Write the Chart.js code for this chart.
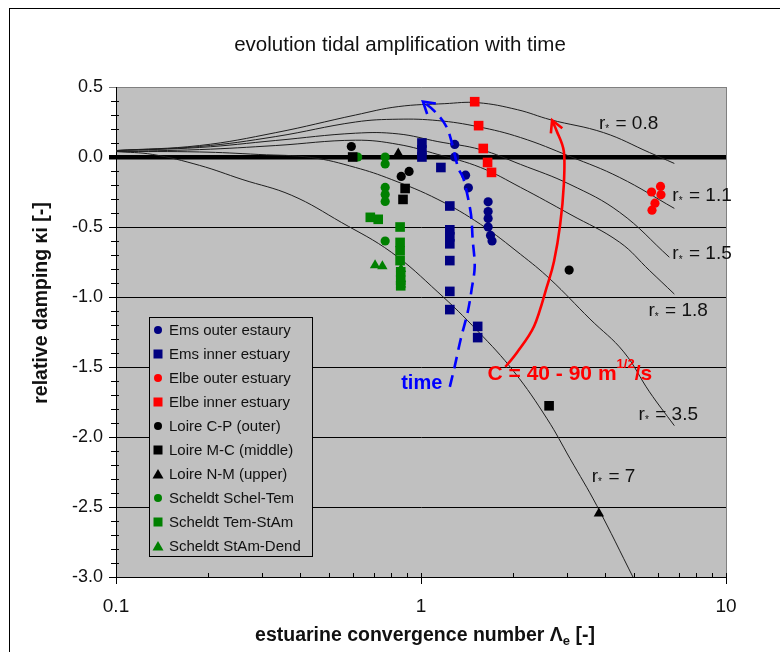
<!DOCTYPE html>
<html>
<head>
<meta charset="utf-8">
<script src="https://cdn.jsdelivr.net/npm/chart.js@4/dist/chart.umd.min.js"></script>
<style>
  html, body { margin: 0; padding: 0; background: #fff; }
</style>
</head>
<body>
<canvas id="tidalChart" width="780" height="652"></canvas>
<script>
// theoretical curves, one per r* value: [convergence number, relative damping]
const rStar = ['0.8', '1.1', '1.5', '1.8', '3.5', '7'];
const curveR08 = [[0.1,0.046],[0.188,0.082],[0.334,0.174],[0.61,0.30],[0.842,0.36],[1.197,0.381],[1.534,0.388],[2.07,0.338],[2.65,0.267],[3.97,0.174],[5.61,0.032],[6.77,-0.046]];
const curveR11 = [[0.1,0.046],[0.188,0.075],[0.334,0.146],[0.61,0.25],[0.842,0.27],[1.136,0.26],[1.534,0.217],[2.12,0.139],[3.08,0.004],[4.48,-0.146],[6.77,-0.367]];
const curveR15 = [[0.1,0.046],[0.188,0.068],[0.334,0.118],[0.61,0.17],[0.842,0.165],[1.136,0.11],[1.568,0.053],[2.12,-0.053],[3.08,-0.196],[4.48,-0.395],[6.52,-0.716]];
const curveR18 = [[0.1,0.04],[0.188,0.053],[0.334,0.082],[0.61,0.12],[0.842,0.09],[1.136,0.018],[1.568,-0.075],[2.12,-0.217],[3.08,-0.409],[4.48,-0.609],[5.61,-0.81],[6.77,-0.979]];
const curveR35 = [[0.1,0.039],[0.188,0.036],[0.294,0.018],[0.438,-0.004],[0.61,-0.075],[0.799,-0.16],[1.136,-0.303],[1.568,-0.481],[2.12,-0.695],[2.65,-0.872],[3.58,-1.157],[4.62,-1.392],[5.61,-1.677],[6.77,-1.919]];
const curveR7  = [[0.1,0.039],[0.132,0.018],[0.188,-0.06],[0.259,-0.16],[0.377,-0.274],[0.548,-0.467],[0.799,-0.68],[1.136,-0.965],[1.534,-1.243],[2.02,-1.535],[2.59,-1.87],[3.08,-2.154],[3.77,-2.49],[4.98,-3.01]];

// measured estuaries
const emsOuterX = [1.29, 1.29, 1.40, 1.43, 1.66, 1.66, 1.66, 1.66, 1.69, 1.71];
const emsOuterY = [0.09, 0.0, -0.13, -0.22, -0.32, -0.39, -0.44, -0.50, -0.56, -0.60];
const emsInnerX = [1.007, 1.007, 1.007, 1.162, 1.243, 1.243, 1.243, 1.243, 1.243, 1.243, 1.243, 1.534, 1.534];
const emsInnerY = [0.10, 0.05, 0.0, -0.075, -0.35, -0.52, -0.57, -0.62, -0.74, -0.96, -1.09, -1.21, -1.29];
const elbeOuterX = [5.70, 6.10, 6.12, 5.85, 5.72];
const elbeOuterY = [-0.25, -0.21, -0.27, -0.33, -0.38];
const elbeInnerX = [1.50, 1.545, 1.60, 1.653, 1.703];
const elbeInnerY = [0.395, 0.224, 0.061, -0.039, -0.11];
const loireCPX = [0.591, 0.861, 0.914, 3.06];
const loireCPY = [0.075, -0.139, -0.103, -0.808];
const loireMCX = [0.597, 0.887, 0.873, 2.63];
const loireMCY = [0.0, -0.225, -0.303, -1.777];
const loireNMX = [0.842, 3.83];
const loireNMY = [0.025, -2.546];
const scheldtSTX = [0.62, 0.763, 0.763, 0.763, 0.763, 0.763, 0.763];
const scheldtSTY = [0.0, 0.0, -0.05, -0.217, -0.267, -0.317, -0.60];
const scheldtTSX = [0.682, 0.724, 0.854, 0.854, 0.854, 0.854, 0.858, 0.858, 0.858];
const scheldtTSY = [-0.431, -0.445, -0.50, -0.61, -0.67, -0.74, -0.82, -0.88, -0.92];
const scheldtSDX = [0.707, 0.747, 0.86, 0.86, 0.86];
const scheldtSDY = [-0.773, -0.78, -0.80, -0.87, -0.91];

const xMajorTicks = [0.1, 1, 10];
const xMinorTicks = [0.2, 0.3, 0.4, 0.5, 0.6, 0.7, 0.8, 0.9, 2, 3, 4, 5, 6, 7, 8, 9];
const yTicks = [0.5, 0.0, -0.5, -1.0, -1.5, -2.0, -2.5, -3.0];

const FONT = '"Liberation Sans", Arial, sans-serif';
const NAVY = '#000080', RED = '#ff0000', GREEN = '#008000', BLACK = '#000000';

const toPts = arr => arr.map(p => ({ x: p[0], y: p[1] }));
const zip = (xs, ys) => xs.map((x, i) => ({ x: x, y: ys[i] }));

const curveSets = [curveR08, curveR11, curveR15, curveR18, curveR35, curveR7].map((c, i) => ({
    type: 'line',
    label: 'r* = ' + rStar[i],
    data: toPts(c),
    borderColor: '#1e1e1e',
    borderWidth: 1,
    pointRadius: 0,
    tension: 0.4,
    fill: false,
    order: 2
}));

function pts(label, xs, ys, color, style) {
    const r = style === 'circle' ? 4.6 : (style === 'rect' ? 6.8 : 6);
    return {
        type: 'scatter', label: label, data: zip(xs, ys),
        backgroundColor: color, borderColor: color, borderWidth: 0,
        pointStyle: style, pointRadius: r, pointHoverRadius: r, order: 1
    };
}

const pointSets = [
    pts('Ems outer estaury', emsOuterX, emsOuterY, NAVY, 'circle'),
    pts('Ems inner estuary', emsInnerX, emsInnerY, NAVY, 'rect'),
    pts('Elbe outer estuary', elbeOuterX, elbeOuterY, RED, 'circle'),
    pts('Elbe inner estuary', elbeInnerX, elbeInnerY, RED, 'rect'),
    pts('Loire C-P (outer)', loireCPX, loireCPY, BLACK, 'circle'),
    pts('Loire M-C (middle)', loireMCX, loireMCY, BLACK, 'rect'),
    pts('Loire N-M (upper)', loireNMX, loireNMY, BLACK, 'triangle'),
    pts('Scheldt Schel-Tem', scheldtSTX, scheldtSTY, GREEN, 'circle'),
    pts('Scheldt Tem-StAm', scheldtTSX, scheldtTSY, GREEN, 'rect'),
    pts('Scheldt StAm-Dend', scheldtSDX, scheldtSDY, GREEN, 'triangle')
];

// smooth path through points (catmull-rom)
function smoothPath(ctx, p) {
    ctx.moveTo(p[0][0], p[0][1]);
    for (let i = 0; i < p.length - 1; i++) {
        const p0 = p[i - 1] || p[i], p1 = p[i], p2 = p[i + 1], p3 = p[i + 2] || p2;
        ctx.bezierCurveTo(p1[0] + (p2[0] - p0[0]) / 6, p1[1] + (p2[1] - p0[1]) / 6,
                          p2[0] - (p3[0] - p1[0]) / 6, p2[1] - (p3[1] - p1[1]) / 6, p2[0], p2[1]);
    }
}
function chevron(ctx, tip, from, len, ang) {
    const a = Math.atan2(tip[1] - from[1], tip[0] - from[0]);
    ctx.beginPath();
    ctx.moveTo(tip[0] - len * Math.cos(a - ang), tip[1] - len * Math.sin(a - ang));
    ctx.lineTo(tip[0], tip[1]);
    ctx.lineTo(tip[0] - len * Math.cos(a + ang), tip[1] - len * Math.sin(a + ang));
    ctx.stroke();
}
function rLabel(ctx, x, y, val) {
    ctx.fillStyle = '#111';
    ctx.textBaseline = 'middle';
    ctx.textAlign = 'left';
    ctx.font = '19px ' + FONT;
    ctx.fillText('r', x, y);
    const w = ctx.measureText('r').width;
    ctx.font = '10px ' + FONT;
    ctx.fillText('*', x + w, y + 6);
    ctx.font = '19px ' + FONT;
    ctx.fillText(' = ' + val, x + w + 5, y);
}

// annotation paths in data coordinates
const timeArrow = [[1.243,-1.642],[1.291,-1.492],[1.350,-1.300],[1.423,-1.107],[1.466,-0.944],[1.50,-0.780],[1.477,-0.588],[1.455,-0.395],[1.380,-0.160],[1.320,-0.068],[1.224,0.196],[1.111,0.324],[1.015,0.395]];
const chezyArrow = [[1.89,-1.499],[2.07,-1.392],[2.35,-1.207],[2.59,-0.922],[2.73,-0.744],[2.86,-0.481],[2.94,-0.196],[2.94,0.039],[2.79,0.182],[2.69,0.262]];
const rLabelPos = [[3.83,0.239],[6.67,-0.274],[6.67,-0.694],[5.57,-1.100],[5.17,-1.841],[3.63,-2.283]];

const decorPlugin = {
    id: 'decor',
    beforeDraw(chart) {
        const { ctx, chartArea: a } = chart;
        ctx.save();
        ctx.fillStyle = '#c0c0c0';
        ctx.fillRect(a.left, a.top, a.right - a.left, a.bottom - a.top);
        ctx.restore();
    },
    afterDatasetsDraw(chart) {
        const { ctx, chartArea: a, scales: { x, y } } = chart;
        const px = p => [x.getPixelForValue(p[0]), y.getPixelForValue(p[1])];
        ctx.save();
        // right border of plot
        ctx.strokeStyle = '#808080';
        ctx.lineWidth = 1;
        ctx.beginPath();
        ctx.moveTo(a.right + 0.5, a.top);
        ctx.lineTo(a.right + 0.5, a.bottom);
        ctx.stroke();

        // minor ticks
        ctx.strokeStyle = '#000';
        ctx.beginPath();
        for (let v = -30; v <= 5; v++) {
            if (v % 5 === 0) continue;
            const yy = Math.round(y.getPixelForValue(v / 10)) + 0.5;
            ctx.moveTo(a.left - 5, yy); ctx.lineTo(a.left + 3, yy);
        }
        xMinorTicks.forEach(v => {
            const xx = Math.round(x.getPixelForValue(v)) + 0.5;
            ctx.moveTo(xx, a.bottom); ctx.lineTo(xx, a.bottom - 4);
        });
        xMajorTicks.forEach(v => {
            const xx = Math.round(x.getPixelForValue(v)) + 0.5;
            ctx.moveTo(xx, a.bottom - 4); ctx.lineTo(xx, a.bottom + 7);
        });
        ctx.stroke();

        // blue dashed "time" arrow
        const tp = timeArrow.map(px);
        ctx.strokeStyle = '#0000ff';
        ctx.lineWidth = 2.6;
        ctx.setLineDash([12, 7]);
        ctx.beginPath(); smoothPath(ctx, tp); ctx.stroke();
        ctx.setLineDash([]);
        chevron(ctx, tp[tp.length - 1], tp[tp.length - 2], 13, 0.55);

        // red Chezy arrow
        const cp = chezyArrow.map(px);
        ctx.strokeStyle = RED;
        ctx.lineWidth = 2.6;
        ctx.beginPath(); smoothPath(ctx, cp); ctx.stroke();
        chevron(ctx, cp[cp.length - 1], cp[cp.length - 2], 13, 0.5);

        // curve labels
        rLabelPos.forEach((p, i) => { const q = px(p); rLabel(ctx, q[0], q[1], rStar[i]); });

        // "time"
        ctx.fillStyle = '#0000ff';
        ctx.font = 'bold 20px ' + FONT;
        ctx.textBaseline = 'middle';
        ctx.textAlign = 'left';
        let q = px([0.861, -1.62]);
        ctx.fillText('time', q[0], q[1]);

        // C = 40 - 90 m^1/2/s
        ctx.fillStyle = RED;
        q = px([1.653, -1.549]);
        ctx.font = 'bold 21px ' + FONT;
        const s1 = 'C = 40 - 90 m';
        ctx.fillText(s1, q[0], q[1]);
        let w = ctx.measureText(s1).width;
        ctx.font = 'bold 13px ' + FONT;
        ctx.fillText('1/2', q[0] + w, q[1] - 9);
        w += ctx.measureText('1/2').width;
        ctx.font = 'bold 21px ' + FONT;
        ctx.fillText('/s', q[0] + w, q[1]);

        // legend box
        const lx = 149, ly = 317, lw = 163, lh = 239;
        ctx.fillStyle = '#c0c0c0';
        ctx.fillRect(lx, ly, lw, lh);
        ctx.strokeStyle = '#000';
        ctx.lineWidth = 1;
        ctx.strokeRect(lx + 0.5, ly + 0.5, lw, lh);
        pointSets.forEach((ds, i) => {
            const cy = 330 + i * 24;
            const cx = 158;
            ctx.fillStyle = ds.backgroundColor;
            ctx.beginPath();
            if (ds.pointStyle === 'circle') {
                ctx.arc(cx, cy, 4, 0, Math.PI * 2);
            } else if (ds.pointStyle === 'rect') {
                ctx.rect(cx - 4.5, cy - 4.5, 9, 9);
            } else {
                ctx.moveTo(cx, cy - 5); ctx.lineTo(cx + 5.5, cy + 4.5); ctx.lineTo(cx - 5.5, cy + 4.5); ctx.closePath();
            }
            ctx.fill();
            ctx.fillStyle = '#111';
            ctx.font = '15px ' + FONT;
            ctx.textBaseline = 'middle';
            ctx.fillText(ds.label, 169, cy + 1);
        });
        ctx.restore();
    },
    afterDraw(chart) {
        const { ctx } = chart;
        ctx.save();
        // outer frame
        ctx.strokeStyle = '#000';
        ctx.lineWidth = 1;
        ctx.strokeRect(9.5, 8.5, 800, 700);
        ctx.fillStyle = '#111';
        ctx.textAlign = 'center';
        ctx.textBaseline = 'middle';
        ctx.font = '20.5px ' + FONT;
        ctx.fillText('evolution tidal amplification with time', 400, 45);

        // y title
        ctx.save();
        ctx.translate(42, 303);
        ctx.rotate(-Math.PI / 2);
        ctx.font = 'bold 19.5px ' + FONT;
        ctx.fillText('relative damping \u03bai [-]', 0, 0);
        ctx.restore();

        // x title with subscript
        ctx.textAlign = 'left';
        ctx.font = 'bold 19.5px ' + FONT;
        const a1 = 'estuarine convergence number \u039b', a2 = 'e', a3 = ' [-]';
        const w1 = ctx.measureText(a1).width, w3 = ctx.measureText(a3).width;
        ctx.font = 'bold 13px ' + FONT;
        const w2 = ctx.measureText(a2).width;
        let sx = 425 - (w1 + w2 + w3) / 2;
        ctx.font = 'bold 19.5px ' + FONT;
        ctx.fillText(a1, sx, 636);
        ctx.font = 'bold 13px ' + FONT;
        ctx.fillText(a2, sx + w1, 641);
        ctx.font = 'bold 19.5px ' + FONT;
        ctx.fillText(a3, sx + w1 + w2, 636);
        ctx.restore();
    }
};

const ctx = document.getElementById('tidalChart').getContext('2d');
new Chart(ctx, {
    data: { datasets: [...pointSets, ...curveSets] },
    options: {
        responsive: false,
        animation: false,
        layout: { padding: { top: 87, right: 54, left: 0, bottom: 0 } },
        plugins: { legend: { display: false }, tooltip: { enabled: false }, title: { display: false } },
        scales: {
            x: {
                type: 'logarithmic',
                min: 0.1, max: 10,
                afterFit: s => { s.height = 75; },
                afterBuildTicks: s => { s.ticks = xMajorTicks.map(v => ({ value: v })); },
                ticks: {
                    autoSkip: false, maxRotation: 0, padding: 18,
                    color: '#111', font: { family: FONT, size: 19 },
                    callback: v => String(v)
                },
                grid: { drawOnChartArea: false, drawTicks: false },
                border: { display: true, color: '#000', width: 1 }
            },
            y: {
                min: -3.0, max: 0.5,
                afterFit: s => { s.width = 116; },
                afterBuildTicks: s => { s.ticks = yTicks.map(v => ({ value: v })); },
                ticks: {
                    padding: 6, color: '#111', font: { family: FONT, size: 18 },
                    callback: v => Number(v).toFixed(1)
                },
                grid: {
                    color: c => (c.tick && c.tick.value === 0.5) ? '#808080' : '#000',
                    lineWidth: c => (c.tick && c.tick.value === 0) ? 4.5 : 1,
                    tickLength: 7
                },
                border: { display: true, color: '#000', width: 1 }
            }
        }
    },
    plugins: [decorPlugin]
});
</script>
</body>
</html>
